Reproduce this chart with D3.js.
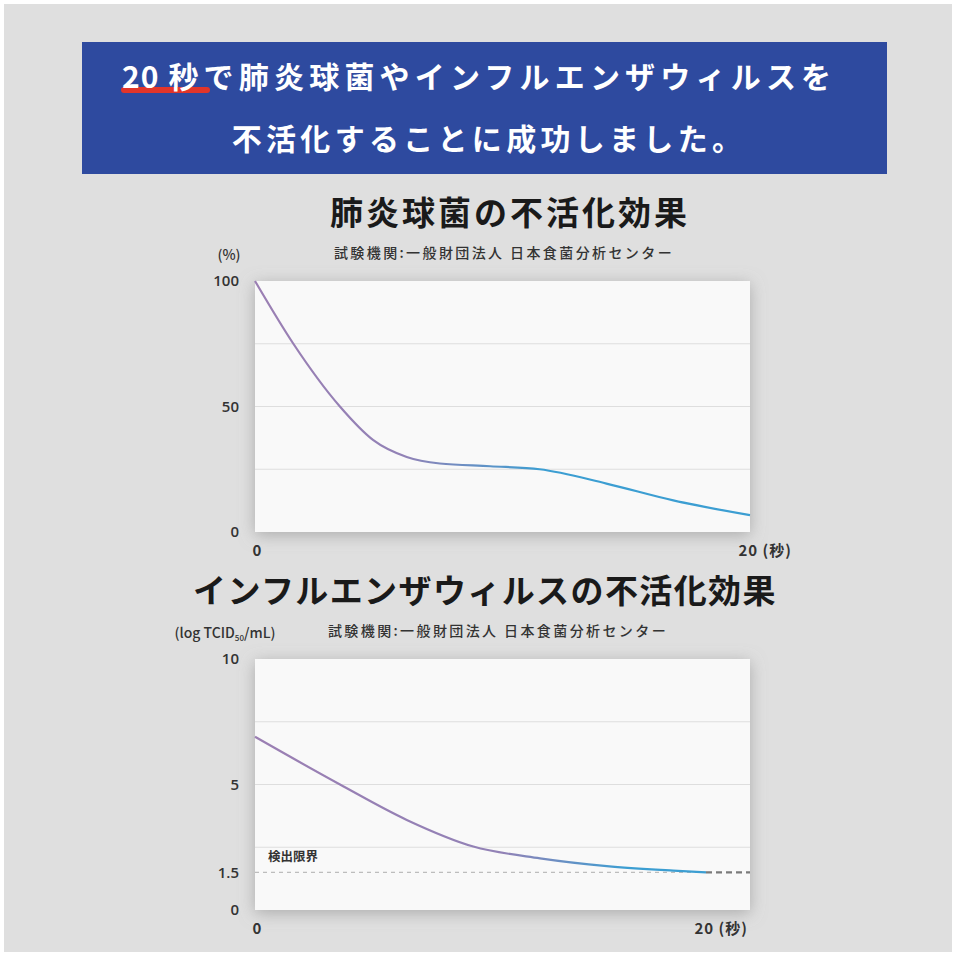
<!DOCTYPE html>
<html>
<head>
<meta charset="utf-8">
<script src="https://cdn.jsdelivr.net/npm/d3@7"></script>
<style>
  html, body { margin: 0; padding: 0; background: #fff; }
  svg text { font-family: "Noto Sans CJK JP", "Noto Sans", sans-serif; }
</style>
</head>
<body>
<svg id="svg" width="956" height="956"></svg>
<script>
const width = 956;
const height = 956;

// chart 1: pneumococcus, percent remaining
const pneumoTime = [0, 1.55, 3.43, 4.78, 6.13, 7.47, 9.5, 11.5, 14.2, 16.9, 20];
const pneumoValue = [100, 75, 50, 36.6, 29.9, 27.3, 26.2, 25, 19.3, 12.6, 6.7];
const pneumoTicks = [0, 50, 100];
const pneumoGrid = [25, 50, 75];

// chart 2: influenza, log TCID50/mL
const fluTime = [0, 3.77, 6.73, 9.68, 12.64, 15.6, 18.55, 20];
const fluValue = [6.9, 5.0, 3.59, 2.53, 2.06, 1.75, 1.57, 1.5];
const fluTicks = [0, 1.5, 5, 10];
const fluGrid = [2.5, 5, 7.5];
const detectionLimit = 1.5;

const headlineNum = "20";
const headline1 = "秒で肺炎球菌やインフルエンザウィルスを";
const headline2 = "不活化することに成功しました。";
const source = "試験機関:一般財団法人 日本食菌分析センター";

let svg = d3.select("#svg");

// page background
svg.append("rect").attr("x", 4).attr("y", 4).attr("width", 948).attr("height", 948)
  .attr("fill", "#dfdfdf");

let defs = svg.append("defs");
defs.append("filter").attr("id", "shadow")
  .attr("x", "-10%").attr("y", "-10%").attr("width", "120%").attr("height", "125%")
  .append("feDropShadow")
  .attr("dx", 0).attr("dy", 3).attr("stdDeviation", 8)
  .attr("flood-color", "#888").attr("flood-opacity", 0.6);

// banner
svg.append("rect").attr("x", 82).attr("y", 42).attr("width", 805).attr("height", 132)
  .attr("fill", "#2e4a9f");
svg.append("line").attr("x1", 124).attr("x2", 207).attr("y1", 90).attr("y2", 90)
  .attr("stroke", "#e2352a").attr("stroke-width", 6).attr("stroke-linecap", "round");
let h1 = svg.append("text").attr("x", 122).attr("y", 88)
  .attr("fill", "#fff").attr("font-size", 30).attr("font-weight", 700);
h1.append("tspan").text(headlineNum).attr("letter-spacing", 1);
h1.append("tspan").text(headline1).attr("dx", 9).attr("letter-spacing", 5.2);
svg.append("text").attr("x", 489).attr("y", 150).text(headline2)
  .attr("fill", "#fff").attr("font-size", 30).attr("font-weight", 700)
  .attr("letter-spacing", 4.3).attr("text-anchor", "middle");

function drawChart(opt) {
  const x = d3.scaleLinear().domain([0, 20]).range([opt.left, opt.x20]);
  const y = d3.scaleLinear().domain([0, opt.max]).range([opt.bottom, opt.top]);
  const g = svg.append("g");

  g.append("text").attr("x", opt.titleX).attr("y", opt.top - 56).text(opt.title)
    .attr("text-anchor", "middle").attr("font-size", 33).attr("font-weight", 700)
    .attr("letter-spacing", opt.titleSpacing).attr("fill", "#1a1a1a");
  g.append("text").attr("x", opt.srcX).attr("y", opt.top - 23).text(source)
    .attr("text-anchor", "middle").attr("font-size", 14).attr("font-weight", 500)
    .attr("letter-spacing", 2.4).attr("fill", "#333");

  g.append("rect").attr("x", opt.left).attr("y", opt.top)
    .attr("width", opt.right - opt.left).attr("height", opt.bottom - opt.top)
    .attr("fill", "#f9f9f9").attr("filter", "url(#shadow)");

  g.selectAll("line.grid").data(opt.grid).join("line").attr("class", "grid")
    .attr("x1", opt.left).attr("x2", opt.right)
    .attr("y1", (d) => y(d)).attr("y2", (d) => y(d))
    .attr("stroke", "#dedede").attr("stroke-width", 1.2);

  const yAxis = g.append("g").attr("transform", `translate(${opt.left - 14},0)`)
    .call(d3.axisLeft(y).tickValues(opt.ticks).tickSize(0).tickPadding(2)
      .tickFormat((d) => String(d)));
  yAxis.select(".domain").remove();
  yAxis.selectAll("text").attr("font-size", 15).attr("font-weight", 600)
    .attr("fill", "#333").style("font-family", "'Open Sans', 'Noto Sans', sans-serif");

  const xAxis = g.append("g").attr("transform", `translate(0,${opt.bottom + 13})`)
    .call(d3.axisBottom(x).tickValues([0, 20]).tickSize(0).tickPadding(0)
      .tickFormat((d) => (d === 20 ? "20 (秒)" : d)));
  xAxis.select(".domain").remove();
  xAxis.selectAll("text").attr("font-size", 15).attr("font-weight", 600)
    .attr("fill", "#333").attr("letter-spacing", 1)
    .attr("text-anchor", (d) => (d === 20 ? "start" : "middle"))
    .attr("dx", (d) => (d === 20 ? -12 : 2));

  g.append("text").attr("x", opt.unitX).attr("y", opt.top - 21)
    .attr("text-anchor", "middle").attr("font-size", 14).attr("font-weight", 500)
    .attr("fill", "#333").call(opt.unit);

  if (opt.limit !== undefined) {
    g.append("line").attr("x1", opt.left).attr("x2", opt.x20)
      .attr("y1", y(opt.limit)).attr("y2", y(opt.limit))
      .attr("stroke", "#bdbdbd").attr("stroke-width", 1.2).attr("stroke-dasharray", "4,4");
    g.append("line").attr("x1", opt.x20).attr("x2", opt.right)
      .attr("y1", y(opt.limit)).attr("y2", y(opt.limit))
      .attr("stroke", "#7a7a7a").attr("stroke-width", 2.2).attr("stroke-dasharray", "6,4");
    g.append("text").attr("x", opt.left + 13).attr("y", y(opt.limit) - 11)
      .text("検出限界").attr("font-size", 12.5).attr("font-weight", 700).attr("fill", "#333");
  }

  const gid = "grad" + opt.id;
  const grad = defs.append("linearGradient").attr("id", gid)
    .attr("gradientUnits", "userSpaceOnUse")
    .attr("x1", opt.left).attr("x2", opt.right).attr("y1", 0).attr("y2", 0);
  grad.append("stop").attr("offset", 0).attr("stop-color", "#9b7fb3");
  grad.append("stop").attr("offset", opt.gradA).attr("stop-color", "#9282b6");
  grad.append("stop").attr("offset", opt.gradB).attr("stop-color", "#3c9ed2");
  grad.append("stop").attr("offset", 1).attr("stop-color", "#3c9ed2");

  const pts = opt.times.map((t, i) => [t, opt.values[i]]);
  g.append("path").datum(pts)
    .attr("d", d3.line().x((d) => x(d[0])).y((d) => y(d[1])).curve(d3.curveMonotoneX))
    .attr("fill", "none").attr("stroke", `url(#${gid})`).attr("stroke-width", 2.2);
}

drawChart({
  id: 1, title: "肺炎球菌の不活化効果", titleX: 510, titleSpacing: 3, srcX: 504,
  left: 255, right: 750, x20: 750, top: 281, bottom: 532, max: 100,
  ticks: pneumoTicks, grid: pneumoGrid, times: pneumoTime, values: pneumoValue,
  gradA: 0.3, gradB: 0.58, unitX: 229,
  unit: (t) => t.text("(%)"),
});

drawChart({
  id: 2, title: "インフルエンザウィルスの不活化効果", titleX: 485, titleSpacing: 1.4, srcX: 498,
  left: 255, right: 750, x20: 706, top: 659, bottom: 910, max: 10,
  ticks: fluTicks, grid: fluGrid, times: fluTime, values: fluValue,
  limit: detectionLimit, gradA: 0.5, gradB: 0.75, unitX: 225,
  unit: (t) => {
    t.append("tspan").text("(log TCID");
    t.append("tspan").text("50").attr("font-size", 8).attr("dy", 3);
    t.append("tspan").text("/mL)").attr("dy", -3);
  },
});
</script>
</body>
</html>
